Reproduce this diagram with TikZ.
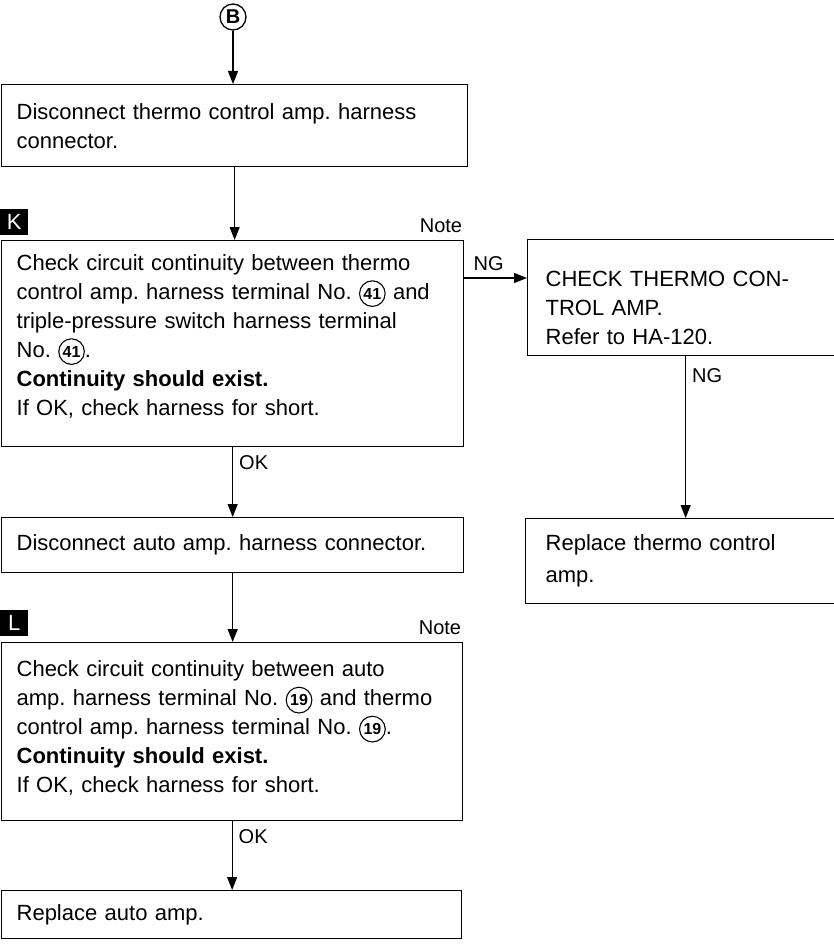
\documentclass[tikz,border=0pt]{standalone}
\usepackage{fontspec}
\setmainfont{Liberation Sans}
\usetikzlibrary{positioning,arrows.meta}
\frenchspacing

\tikzset{
  stepbox/.style={draw, line width=1.3pt, anchor=north west, align=left,
    inner xsep=15pt, font=\fontsize{22}{29}\selectfont},
  flow/.style={line width=1.1pt, -{Triangle[length=13pt,width=10pt]}},
  tag/.style={font=\fontsize{20}{24}\selectfont, inner sep=2pt},
  badge/.style={fill=black, text=white, anchor=north west, minimum width=28pt,
    minimum height=26pt, inner sep=0pt, font=\fontsize{22}{22}\selectfont},
  termring/.style={circle, draw, line width=1.1pt, minimum width=0pt, minimum height=0pt,
    text width={}, align=center, anchor=center, inner sep=1.7pt,
    font=\bfseries\fontsize{16}{16}\selectfont}
}
\newcommand{\termno}[1]{\tikz[baseline=(t.base)]\node[termring] (t) {#1};}

\begin{document}
\begin{tikzpicture}[x=1pt,y=-1pt]
  \useasboundingbox (0,0) rectangle (833,947);

  % left column
  \node[circle, draw, line width=1.3pt, minimum size=26pt, inner sep=0pt,
    font=\bfseries\fontsize{20}{20}\selectfont] (bmark) at (233,17) {B};
  \node[stepbox, minimum width=466pt, minimum height=82pt, text width=436pt] (dis1) at (1,84)
    {Disconnect thermo control amp. harness\\connector.};
  \node[badge] (kTag) at (0,209) {K};
  \node[stepbox, minimum width=462pt, minimum height=206pt, text width=432pt] (chkK) at (1,240)
    {Check circuit continuity between thermo\\
     control amp. harness terminal No. \termno{41} and\\
     triple-pressure switch harness terminal\\
     No. \termno{41}.\\
     \textbf{Continuity should exist.}\\
     If OK, check harness for short.\rule[-18pt]{0pt}{18pt}};
  \node[tag, anchor=south east, yshift=5pt] (noteK) at (chkK.north east) {Note};
  \node[stepbox, minimum width=462pt, minimum height=55pt, text width=432pt] (disA) at (1,517)
    {Disconnect auto amp. harness connector.};
  \node[badge] (lTag) at (0,610) {L};
  \node[stepbox, minimum width=461pt, minimum height=178pt, text width=431pt] (chkL) at (1,642)
    {Check circuit continuity between auto\\
     amp. harness terminal No. \termno{19} and thermo\\
     control amp. harness terminal No. \termno{19}.\\
     \textbf{Continuity should exist.}\\
     If OK, check harness for short.\rule[-10pt]{0pt}{10pt}};
  \node[tag, anchor=south east, yshift=5pt] (noteL) at (chkL.north east) {Note};
  \node[stepbox, minimum width=460pt, minimum height=48pt, text width=430pt] (fin) at (1,890)
    {Replace auto amp.};

  % right column
  \node[stepbox, inner xsep=18pt, minimum width=310pt, minimum height=116pt, text width=280pt] (chkT) at (527,239)
    {\rule{0pt}{36pt}CHECK THERMO CON-\\TROL AMP.\\Refer to HA-120.};
  \node[stepbox, inner xsep=20pt, minimum width=312pt, minimum height=85pt, text width=280pt] (repT) at (525,518)
    {Replace thermo control\\[3pt]amp.};

  % connectors
  \draw[flow] (bmark.south) -- (bmark.south |- dis1.north);
  \draw[flow] (dis1.south) -- (dis1.south |- chkK.north);
  \draw[flow] (chkK.south) -- node[tag, pos=0.22, right=4pt] {OK} (chkK.south |- disA.north);
  \draw[flow] (disA.south) -- (disA.south |- chkL.north);
  \draw[flow] (chkL.south) -- node[tag, pos=0.22, right=4pt] {OK} (chkL.south |- fin.north);
  \coordinate (ngK) at (463,278);
  \draw[flow] (ngK) -- node[tag, pos=0.4, above=5pt] {NG} (ngK -| chkT.west);
  \draw[flow] (chkT.south) -- node[tag, pos=0.12, right=4pt] {NG} (chkT.south |- repT.north);
\end{tikzpicture}
\end{document}
